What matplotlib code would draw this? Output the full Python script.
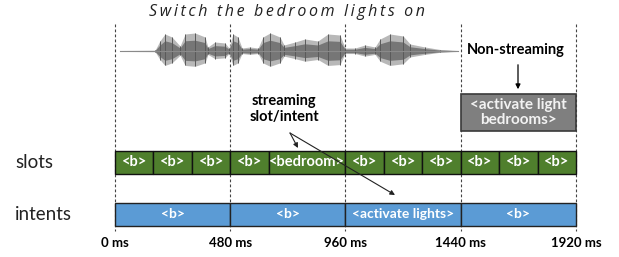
import numpy as np
import matplotlib
matplotlib.use("Agg")
import matplotlib.pyplot as plt
from matplotlib.patches import Rectangle

plt.rcParams['font.family'] = ['Lato', 'DejaVu Sans']

# data
title = "Switch the bedroom lights on"
boundaries_ms = [0, 480, 960, 1440, 1920]
tick_labels = ["0 ms", "480 ms", "960 ms", "1440 ms", "1920 ms"]

slot_starts = [0, 160, 320, 480, 640, 960, 1120, 1280, 1440, 1600, 1760]
slot_ends = [160, 320, 480, 640, 960, 1120, 1280, 1440, 1600, 1760, 1920]
slot_labels = ["<b>", "<b>", "<b>", "<b>", "<bedroom>", "<b>", "<b>", "<b>", "<b>", "<b>", "<b>"]

intent_starts = [0, 480, 960, 1440]
intent_ends = [480, 960, 1440, 1920]
intent_labels = ["<b>", "<b>", "<activate lights>", "<b>"]

nonstream_span = (1440, 1920)
nonstream_label = "<activate light\nbedrooms>"

# rough waveform envelope (ms, amplitude in px)
wave_t = [21, 167, 187, 208, 237, 271, 292, 333, 375, 387, 416, 458, 475, 491, 512, 529,
          562, 596, 616, 646, 687, 704, 750, 791, 845, 887, 937, 958, 1000, 1041, 1083,
          1104, 1145, 1200, 1229, 1291, 1354, 1429]
wave_amp = [0.5, 0.8, 10, 17, 14, 5, 17, 18, 14, 4, 9, 8, 3, 17, 14, 3,
            4, 3, 14, 18, 14, 6, 9, 12, 10, 17, 16, 3, 3, 6, 4,
            12, 17, 15, 7, 4, 1.5, 0.5]

# layout (figure in pixel rows)
px_per_ms = 461 / 1920
x0_px = 115
W, H = 619, 257
wave_y = 51
slot_row = (151, 174)
intent_row = (203, 226)
box_row = (94, 131)

fig = plt.figure(figsize=(W / 100, H / 100), dpi=100)
ax = fig.add_axes([0, 0, 1, 1])
ax.set_xlim(-x0_px / px_per_ms, (W - x0_px) / px_per_ms)
ax.set_ylim(H, 0)
ax.axis('off')

def px(x):
    return (x - x0_px) / px_per_ms

# dashed time boundaries
for b in boundaries_ms:
    ax.plot([b, b], [24, 231], color='#444444', lw=0.8, ls=(0, (2.5, 2)), zorder=1)

# title
ax.text(np.mean([px(149), px(425)]), 12, "\u2009".join(title), ha='center', va='center',
        fontsize=11.5, style='italic', color='#222222', family=['Open Sans', 'DejaVu Sans'])

# waveform
t = np.array(wave_t)
a = np.array(wave_amp)
ax.fill_between(t, wave_y - a, wave_y + 0.85 * a, color='#b8b8b8', lw=0, zorder=2)
ax.fill_between(t, wave_y - 0.6 * a, wave_y + 0.55 * a, color='#767676', lw=0, zorder=2)
ax.vlines(t, wave_y - a, wave_y + 0.85 * a, color='#5a5a5a', lw=0.7, zorder=2)
ax.plot([t[0], t[-1]], [wave_y, wave_y], color='#8a8a8a', lw=0.8, zorder=2)

# non-streaming
ax.text(px(516), 50, "Non-streaming", ha='center', va='center', fontsize=10.5, fontweight='bold')
ax.annotate("", xy=(px(518), box_row[0] - 2), xytext=(px(518), 62),
            arrowprops=dict(arrowstyle='-|>', color='black', lw=0.9, mutation_scale=7))
ax.add_patch(Rectangle((nonstream_span[0], box_row[0]), nonstream_span[1] - nonstream_span[0],
                       box_row[1] - box_row[0], facecolor='#7f7f7f', edgecolor='#3a3a3a', lw=1.2, zorder=3))
ax.text(np.mean(nonstream_span), np.mean(box_row), nonstream_label, ha='center', va='center',
        color='#f2f2f2', fontsize=11, fontweight='bold', linespacing=1.05, zorder=4)

# slots row
for s, e, lab in zip(slot_starts, slot_ends, slot_labels):
    ax.add_patch(Rectangle((s, slot_row[0]), e - s, slot_row[1] - slot_row[0],
                           facecolor='#4f7f2d', edgecolor='#111111', lw=1.0, zorder=3))
    ax.text((s + e) / 2, np.mean(slot_row), lab, ha='center', va='center',
            color='white', fontsize=10.5, fontweight='bold', zorder=4)

# intents row
for s, e, lab in zip(intent_starts, intent_ends, intent_labels):
    ax.add_patch(Rectangle((s, intent_row[0]), e - s, intent_row[1] - intent_row[0],
                           facecolor='#5b9bd5', edgecolor='#222222', lw=1.0, zorder=3))
    ax.text((s + e) / 2, np.mean(intent_row), lab, ha='center', va='center',
            color='white', fontsize=10, fontweight='bold', zorder=4)

# row labels
ax.text(px(15), np.mean(slot_row), "slots", ha='left', va='center', fontsize=13.5, color='#222222')
ax.text(px(15), np.mean(intent_row), "intents", ha='left', va='center', fontsize=13.5, color='#222222')

# streaming annotation
ax.text(px(284), 109, "streaming\nslot/intent", ha='center', va='center', fontsize=10.5,
        fontweight='bold', linespacing=1.25)
for tx, ty in [(298, 148), (395, 195)]:
    ax.annotate("", xy=(px(tx), ty), xytext=(px(290), 133),
                arrowprops=dict(arrowstyle='-|>', color='#222222', lw=0.8, mutation_scale=7,
                                shrinkA=0, shrinkB=0), zorder=5)

# time ticks
for b, lab in zip(boundaries_ms, tick_labels):
    ax.text(b, 243, lab, ha='center', va='center', fontsize=9.5, fontweight='bold')

fig.savefig("out.png", dpi=100)
